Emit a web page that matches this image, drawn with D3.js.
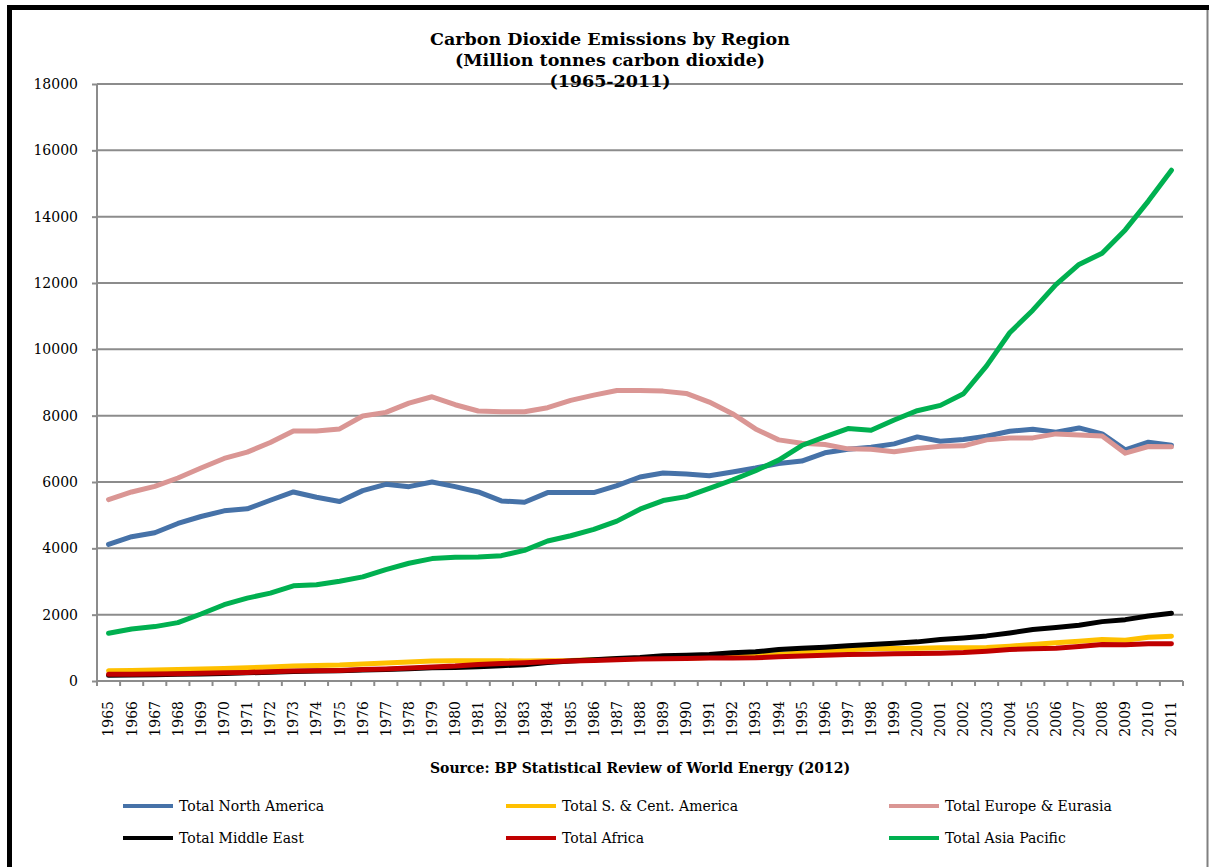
<!DOCTYPE html>
<html>
<head>
<meta charset="utf-8">
<script src="https://cdn.jsdelivr.net/npm/d3@7"></script>
<style>
  html, body { margin: 0; padding: 0; background: #fff; }
  svg { display: block; }
  text { font-family: "DejaVu Serif", "Liberation Serif", serif; fill: #000; }
</style>
</head>
<body>
<svg id="chart" width="1209" height="867"></svg>
<script>
// Carbon dioxide emissions by region, million tonnes, 1965-2011
const years = d3.range(1965, 2012).map(String);

const northAmerica = [4120, 4350, 4470, 4750, 4960, 5130, 5190, 5450, 5700, 5540,
  5410, 5740, 5930, 5860, 6000, 5860, 5700, 5430, 5390, 5680,
  5680, 5680, 5890, 6150, 6270, 6240, 6190, 6300, 6420, 6560,
  6630, 6880, 6990, 7050, 7150, 7360, 7230, 7280, 7380, 7530,
  7590, 7500, 7630, 7450, 6970, 7200, 7110];

const southCentAmerica = [310, 320, 330, 345, 360, 380, 400, 425, 455, 470,
  480, 510, 540, 570, 600, 610, 610, 610, 600, 610,
  615, 640, 660, 680, 690, 690, 710, 730, 760, 800,
  850, 900, 940, 970, 980, 990, 1000, 1000, 1010, 1050,
  1100, 1150, 1200, 1250, 1230, 1320, 1350];

const europeEurasia = [5470, 5700, 5870, 6120, 6420, 6710, 6900, 7190, 7540, 7540,
  7600, 7990, 8100, 8380, 8570, 8330, 8140, 8120, 8120, 8240,
  8460, 8620, 8760, 8760, 8740, 8670, 8410, 8060, 7600, 7270,
  7170, 7130, 7000, 6990, 6910, 7010, 7080, 7090, 7270, 7330,
  7330, 7450, 7420, 7390, 6870, 7070, 7060];

const middleEast = [170, 180, 190, 200, 210, 225, 245, 265, 290, 300,
  310, 330, 350, 370, 400, 410, 430, 460, 490, 560,
  600, 640, 680, 710, 760, 780, 800, 850, 880, 950,
  990, 1020, 1060, 1100, 1140, 1180, 1250, 1300, 1360, 1450,
  1550, 1610, 1680, 1790, 1850, 1960, 2040];

const africa = [200, 205, 210, 220, 230, 245, 260, 280, 300, 310,
  320, 345, 365, 390, 420, 450, 500, 530, 550, 580,
  600, 620, 640, 660, 670, 680, 690, 690, 700, 730,
  755, 780, 800, 810, 820, 830, 840, 860, 900, 950,
  970, 990, 1040, 1100, 1090, 1120, 1125];

const asiaPacific = [1440, 1570, 1640, 1760, 2020, 2300, 2500, 2650, 2870, 2900,
  3010, 3140, 3360, 3550, 3690, 3730, 3740, 3780, 3940, 4220,
  4380, 4570, 4820, 5180, 5440, 5560, 5810, 6060, 6340, 6660,
  7100, 7360, 7610, 7560, 7870, 8150, 8310, 8660, 9500, 10500,
  11180, 11950, 12560, 12900, 13600, 14470, 15400];

const seriesNames = ["Total North America", "Total S. & Cent. America", "Total Europe & Eurasia",
  "Total Middle East", "Total Africa", "Total Asia Pacific"];
const seriesValues = [northAmerica, southCentAmerica, europeEurasia, middleEast, africa, asiaPacific];
const seriesColors = ["#4672A8", "#FFC000", "#DA9694", "#000000", "#C00000", "#00B050"];

const yTicks = [0, 2000, 4000, 6000, 8000, 10000, 12000, 14000, 16000, 18000];

const titleLines = ["Carbon Dioxide Emissions by Region", "(Million tonnes carbon dioxide)", "(1965-2011)"];
const sourceText = "Source: BP Statistical Review of World Energy (2012)";

const svg = d3.select("#chart");
const plot = { left: 97, right: 1183, top: 84, bottom: 681 };

const x = d3.scaleBand().domain(years).range([plot.left, plot.right]).padding(0);
const y = d3.scaleLinear().domain([0, 18000]).range([plot.bottom, plot.top]);

// outer frame
svg.append("line").attr("x1", 7).attr("x2", 1209).attr("y1", 7.5).attr("y2", 7.5)
  .attr("stroke", "#000").attr("stroke-width", 5);
svg.append("line").attr("x1", 9.5).attr("x2", 9.5).attr("y1", 5).attr("y2", 867)
  .attr("stroke", "#000").attr("stroke-width", 5);
svg.append("line").attr("x1", 1207.5).attr("x2", 1207.5).attr("y1", 10).attr("y2", 867)
  .attr("stroke", "#808080").attr("stroke-width", 2);

// horizontal gridlines
const grid = svg.append("g");
grid.selectAll("line").data(yTicks.filter(d => d > 0)).join("line")
  .attr("x1", plot.left).attr("x2", plot.right)
  .attr("y1", d => y(d)).attr("y2", d => y(d))
  .attr("stroke", "#8c8c8c").attr("stroke-width", 2);

// y axis
const yAxis = svg.append("g").attr("transform", `translate(${plot.left},0)`)
  .call(d3.axisLeft(y).tickValues(yTicks).tickSize(5).tickPadding(14).tickFormat(d3.format("d")));
yAxis.select(".domain").attr("stroke", "#8c8c8c").attr("stroke-width", 2)
  .attr("d", `M0,${plot.top}V${plot.bottom + 5}`);
yAxis.selectAll(".tick line").attr("stroke", "#8c8c8c").attr("stroke-width", 2);
yAxis.selectAll(".tick text").attr("font-family", "DejaVu Serif").attr("font-size", 14).attr("fill", "#000");

// x axis
const xAxis = svg.append("g").attr("transform", `translate(0,${plot.bottom})`)
  .call(d3.axisBottom(x).tickSize(0).tickPadding(0));
xAxis.select(".domain").attr("stroke", "#8c8c8c").attr("stroke-width", 2)
  .attr("d", `M${plot.left},0H${plot.right}`);
xAxis.selectAll(".tick text")
  .attr("font-family", "DejaVu Serif").attr("font-size", 14).attr("fill", "#000")
  .attr("text-anchor", "end")
  .attr("transform", "translate(0,20) rotate(-90)")
  .attr("x", 0).attr("y", 0).attr("dy", "0.35em");
// category boundary ticks
const bounds = years.map(d => x(d)).concat([x(years[years.length - 1]) + x.bandwidth()]);
xAxis.selectAll(".bound").data(bounds).join("line").attr("class", "bound")
  .attr("x1", d => d).attr("x2", d => d).attr("y1", 0).attr("y2", 5)
  .attr("stroke", "#8c8c8c").attr("stroke-width", 2);

// series lines
const line = d3.line()
  .x((d, i) => x(years[i]) + x.bandwidth() / 2)
  .y(d => y(d));
svg.append("g").selectAll("path").data(seriesValues).join("path")
  .attr("d", d => line(d))
  .attr("fill", "none")
  .attr("stroke", (d, i) => seriesColors[i])
  .attr("stroke-width", 5)
  .attr("stroke-linejoin", "round")
  .attr("stroke-linecap", "round");

// title
svg.append("g").selectAll("text").data(titleLines).join("text")
  .attr("x", 610).attr("y", (d, i) => 45 + i * 21)
  .attr("text-anchor", "middle")
  .attr("font-weight", "bold").attr("font-size", 17.5)
  .text(d => d);

// source note
svg.append("text").attr("x", 640).attr("y", 773)
  .attr("text-anchor", "middle").attr("font-weight", "bold").attr("font-size", 14)
  .text(sourceText);

// legend
const legendCols = [123, 506, 889];
const legendRows = [806, 838];
const legend = svg.append("g").selectAll("g").data(seriesNames).join("g")
  .attr("transform", (d, i) => `translate(${legendCols[i % 3]},${legendRows[Math.floor(i / 3)]})`);
legend.append("line").attr("x1", 0).attr("x2", 50).attr("y1", 0).attr("y2", 0)
  .attr("stroke", (d, i) => seriesColors[i]).attr("stroke-width", 4);
legend.append("text").attr("x", 56).attr("y", 0).attr("dy", "0.35em")
  .attr("font-size", 14).text(d => d);
</script>
</body>
</html>
